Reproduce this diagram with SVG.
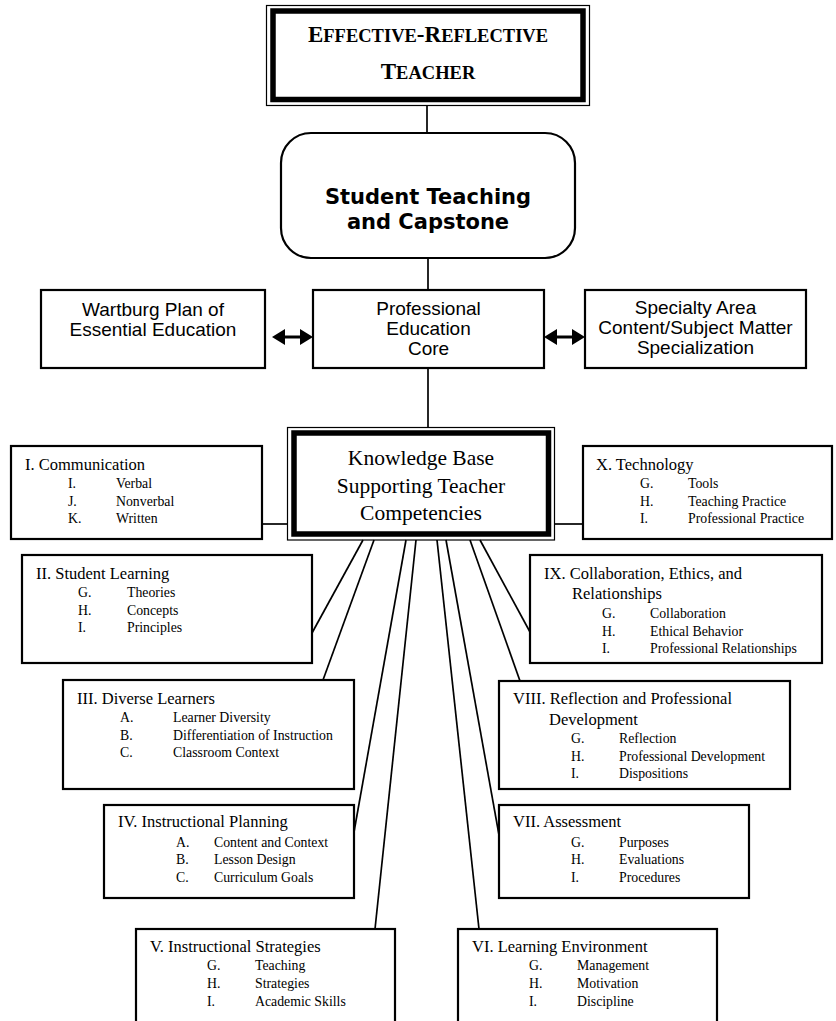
<svg xmlns="http://www.w3.org/2000/svg" width="836" height="1021" viewBox="0 0 836 1021">
  <defs>
    <style>
      .box { fill: #fff; stroke: #000; stroke-width: 2.2; }
      .thin { fill: none; stroke: #000; stroke-width: 1.2; }
      .thick { fill: #fff; stroke: #000; stroke-width: 5.5; }
      .conn { fill: none; stroke: #000; stroke-width: 1.7; }
      .head { fill: #000; }
      .ttl { font-family: "Liberation Serif", serif; font-weight: bold; }
      .big { font-family: "DejaVu Sans", sans-serif; font-weight: bold; font-size: 21px; text-anchor: middle; }
      .mid { font-family: "Liberation Sans", Arial, sans-serif; font-size: 19px; text-anchor: middle; }
      .kb { font-family: "Liberation Serif", serif; font-size: 21.5px; text-anchor: middle; }
      .hd { font-family: "Liberation Serif", serif; font-size: 16.5px; }
      .it { font-family: "Liberation Serif", serif; font-size: 13.8px; }
    </style>
  </defs>
  <rect width="836" height="1021" fill="#fff"/>

  <!-- connectors -->
  <g id="connectors">
    <line class="conn" x1="427" y1="105" x2="427" y2="133"/>
    <line class="conn" x1="428" y1="258" x2="428" y2="290"/>
    <line class="conn" x1="428" y1="368" x2="428" y2="427"/>
    <!-- side links to the knowledge base -->
    <line class="conn" x1="262" y1="524" x2="287" y2="524"/>
    <line class="conn" x1="555" y1="524" x2="583" y2="524"/>
    <!-- fan from the bottom of the knowledge base -->
    <line class="conn" x1="363" y1="540" x2="312" y2="633"/>
    <line class="conn" x1="374" y1="540" x2="323" y2="680"/>
    <line class="conn" x1="406" y1="540" x2="354" y2="832"/>
    <line class="conn" x1="416" y1="540" x2="375" y2="929"/>
    <line class="conn" x1="437" y1="540" x2="479" y2="929"/>
    <line class="conn" x1="446" y1="540" x2="499" y2="835"/>
    <line class="conn" x1="470" y1="540" x2="520" y2="681"/>
    <line class="conn" x1="480" y1="540" x2="530" y2="632"/>
    <!-- double arrows -->
    <line x1="280" y1="337" x2="305" y2="337" stroke="#000" stroke-width="3"/>
    <polygon class="head" points="272,337 285,329 285,345"/>
    <polygon class="head" points="313,337 300,329 300,345"/>
    <line x1="552" y1="337" x2="577" y2="337" stroke="#000" stroke-width="3"/>
    <polygon class="head" points="544,337 557,329 557,345"/>
    <polygon class="head" points="585,337 572,329 572,345"/>
  </g>

  <g id="effective-reflective-teacher">
    <rect class="thin" x="266.5" y="5.5" width="323" height="100"/>
    <rect class="thick" x="273" y="11" width="310" height="88.5"/>
    <text class="ttl" x="428" y="42" text-anchor="middle"><tspan font-size="23">E</tspan><tspan font-size="18.5">FFECTIVE</tspan><tspan font-size="23">-R</tspan><tspan font-size="18.5">EFLECTIVE</tspan></text>
    <text class="ttl" x="428" y="79" text-anchor="middle"><tspan font-size="23">T</tspan><tspan font-size="18.5">EACHER</tspan></text>
  </g>

  <g id="student-teaching">
    <rect class="box" x="281" y="133" width="294" height="125" rx="30" ry="30"/>
    <text class="big" x="428" y="204">Student Teaching</text>
    <text class="big" x="428" y="229">and Capstone</text>
  </g>

  <g id="wartburg-plan">
    <rect class="box" x="41" y="290" width="224" height="78"/>
    <text class="mid" x="153" y="316">Wartburg Plan of</text>
    <text class="mid" x="153" y="336">Essential Education</text>
  </g>

  <g id="professional-core">
    <rect class="box" x="313" y="290" width="231" height="78"/>
    <text class="mid" x="428.5" y="315">Professional</text>
    <text class="mid" x="428.5" y="335">Education</text>
    <text class="mid" x="428.5" y="355">Core</text>
  </g>

  <g id="specialty-area">
    <rect class="box" x="585" y="290" width="221" height="78"/>
    <text class="mid" x="695.5" y="314">Specialty Area</text>
    <text class="mid" x="695.5" y="334">Content/Subject Matter</text>
    <text class="mid" x="695.5" y="354">Specialization</text>
  </g>

  <g id="knowledge-base">
    <rect class="thin" x="287.5" y="427.5" width="267" height="112.5"/>
    <rect class="thick" x="294" y="433" width="254.5" height="101"/>
    <text class="kb" x="421" y="465">Knowledge Base</text>
    <text class="kb" x="421" y="492.5">Supporting Teacher</text>
    <text class="kb" x="421" y="520">Competencies</text>
  </g>

  <g id="communication">
    <rect class="box" x="11" y="446" width="251" height="93"/>
    <text class="hd" x="25" y="470">I. Communication</text>
    <text class="it" x="68" y="488">I.</text><text class="it" x="116" y="488">Verbal</text>
    <text class="it" x="68" y="505.5">J.</text><text class="it" x="116" y="505.5">Nonverbal</text>
    <text class="it" x="68" y="523">K.</text><text class="it" x="116" y="523">Written</text>
  </g>

  <g id="technology">
    <rect class="box" x="583" y="446" width="249" height="93"/>
    <text class="hd" x="596" y="470">X. Technology</text>
    <text class="it" x="640" y="488">G.</text><text class="it" x="688" y="488">Tools</text>
    <text class="it" x="640" y="505.5">H.</text><text class="it" x="688" y="505.5">Teaching Practice</text>
    <text class="it" x="640" y="523">I.</text><text class="it" x="688" y="523">Professional Practice</text>
  </g>

  <g id="student-learning">
    <rect class="box" x="22" y="555" width="290" height="108"/>
    <text class="hd" x="36" y="579">II. Student Learning</text>
    <text class="it" x="78" y="597">G.</text><text class="it" x="127" y="597">Theories</text>
    <text class="it" x="78" y="614.5">H.</text><text class="it" x="127" y="614.5">Concepts</text>
    <text class="it" x="78" y="632">I.</text><text class="it" x="127" y="632">Principles</text>
  </g>

  <g id="collaboration-ethics">
    <rect class="box" x="530" y="555" width="292" height="108"/>
    <text class="hd" x="544" y="579">IX. Collaboration, Ethics, and</text>
    <text class="hd" x="572" y="599">Relationships</text>
    <text class="it" x="602" y="618">G.</text><text class="it" x="650" y="618">Collaboration</text>
    <text class="it" x="602" y="635.5">H.</text><text class="it" x="650" y="635.5">Ethical Behavior</text>
    <text class="it" x="602" y="653">I.</text><text class="it" x="650" y="653">Professional Relationships</text>
  </g>

  <g id="diverse-learners">
    <rect class="box" x="63" y="680" width="291" height="109"/>
    <text class="hd" x="77" y="704">III. Diverse Learners</text>
    <text class="it" x="120" y="722">A.</text><text class="it" x="173" y="722">Learner Diversity</text>
    <text class="it" x="120" y="740">B.</text><text class="it" x="173" y="740">Differentiation of Instruction</text>
    <text class="it" x="120" y="757">C.</text><text class="it" x="173" y="757">Classroom Context</text>
  </g>

  <g id="reflection-development">
    <rect class="box" x="499" y="681" width="291" height="108"/>
    <text class="hd" x="513" y="704">VIII. Reflection and Professional</text>
    <text class="hd" x="549" y="725">Development</text>
    <text class="it" x="571" y="743">G.</text><text class="it" x="619" y="743">Reflection</text>
    <text class="it" x="571" y="761">H.</text><text class="it" x="619" y="761">Professional Development</text>
    <text class="it" x="571" y="778">I.</text><text class="it" x="619" y="778">Dispositions</text>
  </g>

  <g id="instructional-planning">
    <rect class="box" x="104" y="805" width="250" height="93"/>
    <text class="hd" x="118" y="827">IV. Instructional Planning</text>
    <text class="it" x="176" y="847">A.</text><text class="it" x="214" y="847">Content and Context</text>
    <text class="it" x="176" y="864">B.</text><text class="it" x="214" y="864">Lesson Design</text>
    <text class="it" x="176" y="882">C.</text><text class="it" x="214" y="882">Curriculum Goals</text>
  </g>

  <g id="assessment">
    <rect class="box" x="499" y="805" width="250" height="93"/>
    <text class="hd" x="513" y="827">VII. Assessment</text>
    <text class="it" x="571" y="847">G.</text><text class="it" x="619" y="847">Purposes</text>
    <text class="it" x="571" y="864">H.</text><text class="it" x="619" y="864">Evaluations</text>
    <text class="it" x="571" y="882">I.</text><text class="it" x="619" y="882">Procedures</text>
  </g>

  <g id="instructional-strategies">
    <rect class="box" x="136" y="929" width="259" height="110"/>
    <text class="hd" x="150" y="952">V. Instructional Strategies</text>
    <text class="it" x="207" y="970">G.</text><text class="it" x="255" y="970">Teaching</text>
    <text class="it" x="207" y="988">H.</text><text class="it" x="255" y="988">Strategies</text>
    <text class="it" x="207" y="1006">I.</text><text class="it" x="255" y="1006">Academic Skills</text>
  </g>

  <g id="learning-environment">
    <rect class="box" x="458" y="929" width="259" height="110"/>
    <text class="hd" x="472" y="952">VI. Learning Environment</text>
    <text class="it" x="529" y="970">G.</text><text class="it" x="577" y="970">Management</text>
    <text class="it" x="529" y="988">H.</text><text class="it" x="577" y="988">Motivation</text>
    <text class="it" x="529" y="1006">I.</text><text class="it" x="577" y="1006">Discipline</text>
  </g>
</svg>
